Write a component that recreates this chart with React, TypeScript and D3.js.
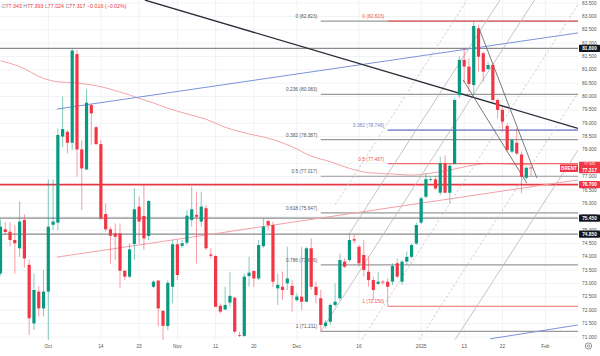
import React from "react";
import * as d3 from "d3";

// ---- candle data (bar index order) ----
const opens = [73.38,75.03,74.94,74.63,74.32,75.38,73.70,71.51,72.70,72.07,72.70,75.20,75.28,78.50,78.68,78.27,81.59,78.02,77.27,79.68,78.85,78.22,75.60,75.03,74.88,74.88,73.48,73.26,74.48,75.88,75.53,74.78,72.88,73.11,71.98,71.41,72.88,74.47,74.41,74.53,75.38,75.57,75.32,75.82,74.09,74.03,72.17,72.03,72.29,72.47,71.07,71.04,73.28,73.47,73.19,74.40,75.34,75.19,72.82,72.88,73.01,72.91,72.38,72.51,72.32,74.32,72.88,72.45,71.41,71.57,72.20,72.45,73.82,73.88,74.66,74.38,74.07,73.44,73.13,72.99,73.07,73.07,73.07,73.76,73.07,73.82,74.00,74.50,75.28,76.25,76.88,76.90,76.40,77.50,76.40,77.47,80.05,81.37,81.12,80.43,82.55,81.62,81.03,81.18,79.87,79.50,78.90,77.94,78.27,77.83,76.96,77.343];
const highs = [75.40,75.30,75.30,75.20,76.07,75.60,73.90,73.38,72.90,73.50,76.90,76.90,78.80,80.00,78.75,81.80,81.74,78.37,80.27,79.75,78.90,78.37,76.00,75.13,75.25,75.25,73.50,74.50,76.57,76.25,76.69,76.13,73.13,73.13,72.00,73.13,74.63,74.63,74.63,75.75,76.63,76.44,76.44,75.94,74.32,74.07,72.26,72.88,73.44,72.51,71.20,73.38,74.00,73.50,74.63,75.44,75.38,75.32,73.38,73.45,74.38,73.13,72.63,74.38,74.38,74.69,73.07,72.76,71.64,72.26,73.01,74.13,73.94,74.86,74.82,74.44,74.63,74.00,73.26,73.44,73.13,73.20,73.76,73.94,73.88,74.20,74.50,75.28,76.25,77.12,77.00,77.00,77.75,77.81,77.50,79.93,81.50,81.80,81.43,82.823,82.68,81.68,81.30,81.24,79.93,79.62,79.00,78.43,78.81,77.94,77.39,77.393];
const lows = [73.30,74.80,74.38,73.38,74.00,73.60,71.07,71.26,71.76,71.76,70.89,75.00,75.00,78.10,77.87,78.00,77.00,75.75,77.25,78.20,78.18,75.38,74.94,73.75,73.88,72.82,73.13,73.20,73.88,74.50,74.26,74.63,72.82,71.40,70.89,71.26,72.26,73.13,74.32,74.44,75.13,73.75,75.13,74.26,73.94,72.13,71.88,72.00,72.13,71.13,71.00,71.00,72.88,72.88,73.13,74.32,74.99,72.88,72.20,72.38,72.76,71.95,72.32,72.00,72.32,72.76,72.26,71.211,71.32,71.45,72.13,72.38,73.57,73.82,74.50,73.63,73.26,72.88,72.38,72.95,72.95,72.15,72.95,73.20,72.95,73.70,73.94,74.44,75.23,76.19,76.81,76.50,76.31,76.38,76.00,77.47,79.93,80.50,80.18,80.05,80.93,80.55,80.99,79.81,79.18,78.68,77.94,77.88,77.81,76.38,76.88,77.024];
const closes = [75.13,74.93,74.63,74.51,75.32,73.94,71.70,72.76,72.07,72.70,75.13,75.32,78.56,78.78,78.27,81.72,78.02,77.31,79.77,79.37,78.22,75.44,75.03,74.79,74.75,73.48,73.26,74.28,75.78,75.32,74.69,76.09,73.07,72.07,71.42,73.03,74.47,73.32,74.51,75.54,75.78,75.50,75.88,74.32,74.04,72.13,71.95,72.20,72.54,71.20,71.04,73.26,73.41,73.19,74.44,75.13,75.19,73.07,72.95,72.76,73.19,72.57,72.51,72.32,74.32,72.88,72.57,71.45,71.54,72.20,72.32,73.88,73.63,74.63,74.61,73.76,73.51,73.13,72.76,73.07,73.05,72.88,73.66,73.26,73.82,74.00,74.44,75.19,76.19,76.91,76.91,76.56,77.50,76.40,77.41,79.87,81.37,81.12,80.47,82.64,81.49,80.93,81.18,79.87,79.50,79.06,78.00,78.37,77.87,77.00,77.333,77.317];

// ---- time axis ----
const tickLabels = ["Oct","14","23","Nov","11","20","Dec","16","2025","13","22","Feb"];
const tickBars = [10,21,29,37,45,53,62,75,88,97,105,114];

// ---- price axis ----
const priceTicks = d3.range(71, 83.501, 0.5);

// ---- moving average (read at sample bars) ----
const maBars = [0,4,9,12,15,18,21,24,27,29,32,35,39,43,47,52,56,61,65,69,73,77,82,86,90,94,98,102,107,111];
const maValues = [81.34,81.12,80.68,80.55,80.52,80.46,80.37,80.22,80.06,79.93,79.76,79.56,79.35,79.15,78.85,78.60,78.44,78.12,77.77,77.56,77.31,77.15,77.10,77.06,77.13,77.25,77.40,77.50,77.47,77.44];

// ---- horizontal levels ----
const hLevels = [81.8, 75.45, 74.85];
const redLevel = 76.7;

// ---- fibonacci retracements ----
const fib1Low = 71.211, fib1High = 82.823, fib1Start = 67;
const fib1Levels = [0, 0.236, 0.382, 0.5, 0.618, 0.786, 1];
const fib2Low = 72.15, fib2High = 82.823, fib2Start = 81;
const fib2Levels = [0, 0.382, 0.5, 1];
const fib2Colors = ["#ef5350", "#7986cb", "#ef5350", "#ef5350"];

// ---- trend lines: [bar1, price1, bar2, price2] ----
const blackLine = [30.2, 83.61, 120.8, 78.81];
const blueLines = [[11.8, 79.53, 120.8, 82.38], [102.4, 70.93, 120.8, 71.45]];
const pinkLine = [11.8, 73.99, 120.8, 76.88];
const wedgeLines = [[100.1, 82.56, 112.2, 76.95], [96.8, 80.62, 110.1, 76.76]];
const channelSolid = [[72.9, 74.85, 104.5, 83.61], [67, 71.211, 111.7, 83.61], [95.1, 70.9, 120.8, 77.99]];
const channelDashed = [[70, 75.94, 97.6, 83.61], [75.6, 70.9, 120.8, 83.43], [87.6, 70.9, 120.8, 80.13]];

const UP = "#089981";
const DOWN = "#f23645";
const FONT = "'Liberation Sans', Arial, sans-serif";

export default function App() {
  const W = 600, H = 356;
  const plotR = 578, plotB = 340;
  const x = d3.scaleLinear().domain([0, 120]).range([0.5, 0.5 + 4.78 * 120]);
  const y = d3.scaleLinear().domain([71, 83.5]).range([337, 3]);
  const bw = 3.2;
  const last = closes.length - 1;
  const yLast = y(closes[last]);
  const lastTop = yLast - 6.5, lastBot = yLast + 5;

  const line = (l: number[], stroke: string, width: number, dash?: string, key?: any) => (
    <line key={key} x1={x(l[0])} y1={y(l[1])} x2={x(l[2])} y2={y(l[3])} stroke={stroke} strokeWidth={width} strokeDasharray={dash} />
  );

  const maPath = d3.line<number>().x((d, i) => x(maBars[i])).y(d => y(d)).curve(d3.curveMonotoneX)(maValues) || "";

  const fib1Range = fib1High - fib1Low;
  const fib2Range = fib2High - fib2Low;

  // ticks fully hidden under the last-price box are not drawn
  const visibleTicks = priceTicks.filter(p => y(p) < lastTop - 1 || y(p) > lastBot + 1);

  const axisBox = (price: number, label: string, fill: string, key: string) => (
    <g key={key}>
      <rect x={579} y={y(price) - 3.6} width={21} height={7.2} fill={fill} rx={0.8} />
      <text x={589.5} y={y(price)} fill="#fff" fontSize={4.8} fontWeight="bold" textAnchor="middle" dominantBaseline="central" fontFamily={FONT}>{label}</text>
    </g>
  );

  return (
    <svg width={W} height={H} style={{ position: "absolute", left: 0, top: 0, background: "#fff" }} fontFamily={FONT}>
      <defs>
        <clipPath id="plot"><rect x={0} y={0} width={plotR} height={plotB} /></clipPath>
      </defs>
      <rect x={0} y={0} width={W} height={H} fill="#fff" />
      {/* grid */}
      <g stroke="#f0f2f6" strokeWidth={1}>
        {tickBars.map((b, i) => <line key={"vg" + i} x1={x(b)} x2={x(b)} y1={0} y2={plotB} />)}
        {priceTicks.map((p, i) => <line key={"hg" + i} x1={0} x2={plotR} y1={y(p)} y2={y(p)} />)}
      </g>
      <g clipPath="url(#plot)">
        {/* moving average */}
        <path d={maPath} fill="none" stroke="#f4a3a8" strokeWidth={1} />
        {/* horizontal levels */}
        {hLevels.map((p, i) => <line key={"hl" + i} x1={0} x2={plotR} y1={y(p)} y2={y(p)} stroke="#8a8a8a" strokeWidth={1.4} />)}
        <line x1={0} x2={plotR} y1={y(redLevel)} y2={y(redLevel)} stroke="#e53945" strokeWidth={1.8} />
        {/* fib set 1 */}
        {fib1Levels.map((l, i) => {
          const p = fib1High - l * fib1Range;
          return (
            <g key={"f1" + i}>
              <line x1={x(fib1Start)} x2={plotR} y1={y(p)} y2={y(p)} stroke="#9a9a9a" strokeWidth={1.2} />
              <text x={x(fib1Start) - 3.5} y={y(p) - 3} fontSize={4.8} fill="#555" textAnchor="end">{`${l} (${p.toFixed(3)})`}</text>
            </g>
          );
        })}
        {/* fib set 2 */}
        {fib2Levels.map((l, i) => {
          const p = fib2High - l * fib2Range;
          return (
            <g key={"f2" + i}>
              <line x1={x(fib2Start)} x2={plotR} y1={y(p)} y2={y(p)} stroke={fib2Colors[i]} strokeWidth={l === 0.382 ? 1.8 : 1.2} strokeOpacity={0.85} />
              <text x={x(fib2Start) - 3.5} y={y(p) - 3} fontSize={4.8} fill={fib2Colors[i]} textAnchor="end">{`${l} (${p.toFixed(3)})`}</text>
            </g>
          );
        })}
        {/* trend lines */}
        {line(pinkLine, "#f4a0a8", 1)}
        {blueLines.map((l, i) => line(l, "#7b93dc", 1, undefined, "bl" + i))}
        {channelSolid.map((l, i) => line(l, "#b5b5b5", 0.8, undefined, "cs" + i))}
        {channelDashed.map((l, i) => line(l, "#c4c4c4", 0.8, "2.5,2", "cd" + i))}
        {line(blackLine, "#2a2e39", 1.3)}
        {wedgeLines.map((l, i) => line(l, "#6b6b6b", 0.9, undefined, "wl" + i))}
        {/* candles */}
        {opens.map((o, i) => {
          const c = closes[i];
          const col = c >= o ? UP : DOWN;
          const top = y(Math.max(o, c));
          const bot = y(Math.min(o, c));
          return (
            <g key={"c" + i}>
              <line x1={x(i)} x2={x(i)} y1={y(highs[i])} y2={y(lows[i])} stroke={col} strokeOpacity={0.55} strokeWidth={0.9} />
              <rect x={x(i) - bw / 2} y={top} width={bw} height={Math.max(0.8, bot - top)} fill={col} />
            </g>
          );
        })}
      </g>
      {/* price axis labels */}
      {visibleTicks.map((p, i) => (
        <text key={"pt" + i} x={582} y={y(p)} fontSize={4.8} fill="#555" dominantBaseline="central">{p.toFixed(3)}</text>
      ))}
      {axisBox(81.8, "81.800", "#131722", "b1")}
      {axisBox(75.45, "75.450", "#131722", "b2")}
      {axisBox(74.85, "74.850", "#131722", "b3")}
      {axisBox(76.7, "76.700", "#f23645", "b4")}
      {/* last price */}
      <g>
        <rect x={579} y={lastTop} width={21} height={lastBot - lastTop} fill="#f23645" />
        <text x={589.5} y={yLast - 3.9} fill="#fff" fontSize={3.6} textAnchor="middle" dominantBaseline="central">{opens[last].toFixed(3)}</text>
        <text x={589.5} y={yLast + 2} fill="#fff" fontSize={4.8} fontWeight="bold" textAnchor="middle" dominantBaseline="central">{closes[last].toFixed(3)}</text>
        <rect x={560} y={yLast - 3.8} width={18} height={7.6} fill="#f23645" />
        <text x={569} y={yLast} fill="#fff" fontSize={4.6} fontWeight="bold" textAnchor="middle" dominantBaseline="central">BRENT</text>
      </g>
      {/* time axis */}
      {tickLabels.map((t, i) => (
        <text key={"tl" + i} x={x(tickBars[i])} y={346} fontSize={4.8} fill="#555" textAnchor="middle" dominantBaseline="central">{t}</text>
      ))}
      <circle cx={588.5} cy={346} r={3.2} fill="none" stroke="#777" strokeWidth={0.8} />
      <circle cx={588.5} cy={346} r={1.2} fill="none" stroke="#777" strokeWidth={0.7} />
      {/* header */}
      <text x={1.5} y={6} fontSize={5.3} dominantBaseline="central">
        <tspan fill="#888">O</tspan><tspan fill="#f23645">{opens[last].toFixed(3)} </tspan>
        <tspan fill="#888">H</tspan><tspan fill="#f23645">{highs[last].toFixed(3)} </tspan>
        <tspan fill="#888">L</tspan><tspan fill="#f23645">{lows[last].toFixed(3)} </tspan>
        <tspan fill="#888">C</tspan><tspan fill="#f23645">{closes[last].toFixed(3)} </tspan>
        <tspan fill="#f23645">{"\u22120.016 (\u22120.02%)"}</tspan>
      </text>
    </svg>
  );
}
